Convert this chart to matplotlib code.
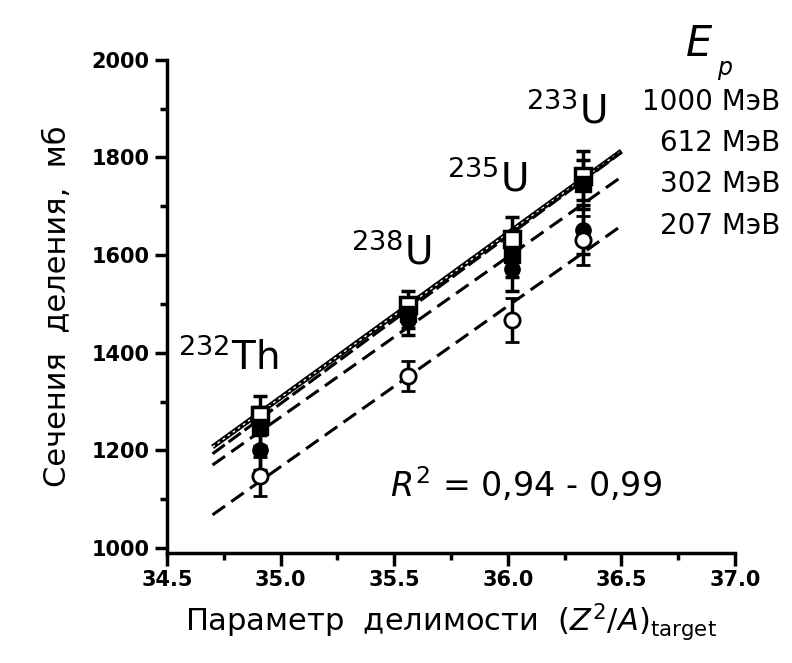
import matplotlib
matplotlib.use("Agg")
import matplotlib.pyplot as plt
from matplotlib.ticker import MultipleLocator, FormatStrFormatter

plt.rcParams['font.family'] = ['DejaVu Sans']

# параметр делимости ядер-мишеней
nuclei = ["232Th", "238U", "235U", "233U"]
z2a = [34.91, 35.56, 36.02, 36.33]

energies = ["1000 МэВ", "612 МэВ", "302 МэВ", "207 МэВ"]

# сечения деления, мб (по порядку ядер)
sig_1000 = [1272, 1497, 1632, 1762]
sig_612 = [1248, 1480, 1600, 1745]
sig_302 = [1200, 1466, 1572, 1652]
sig_207 = [1147, 1352, 1466, 1630]
err = [40, 30, 45, 50]

# концы линейных аппроксимаций
fit_x = [34.7, 36.5]
fit_1000 = [1207, 1813]
fit_612 = [1193, 1810]
fit_302 = [1170, 1760]
fit_207 = [1068, 1660]

# позиции подписей энергий справа
label_y = [1913, 1830, 1745, 1660]

fig = plt.figure(figsize=(7.92, 6.63), dpi=100)
ax = fig.add_axes([0.211, 0.166, 0.717, 0.744])

# линии аппроксимации
ax.plot(fit_x, fit_1000, color="black", lw=3.5, solid_capstyle="butt")
ax.plot(fit_x, fit_1000, color="white", lw=1.0, ls=(0, (2, 2.5)))
ax.plot(fit_x, fit_612, color="black", lw=2.2, ls=(0, (5, 1.5)))
ax.plot(fit_x, fit_302, color="black", lw=2.2, ls=(0, (5, 2.5)))
ax.plot(fit_x, fit_207, color="black", lw=2.2, ls=(0, (5, 2.5)))

# экспериментальные точки
eb = dict(ecolor="black", elinewidth=2.5, capsize=5, capthick=2.5, ls="none")
ax.errorbar(z2a, sig_1000, yerr=err, marker="s", ms=11, mfc="white",
            mec="black", mew=2.5, **eb)
ax.errorbar(z2a, sig_612, yerr=err, marker="s", ms=11, mfc="black",
            mec="black", **eb)
ax.errorbar(z2a, sig_302, yerr=err, marker="o", ms=11, mfc="black",
            mec="black", **eb)
ax.errorbar(z2a, sig_207, yerr=err, marker="o", ms=11, mfc="white",
            mec="black", mew=2, **eb)

# подписи ядер
ax.text(34.55, 1365, r"$^{232}$Th", fontsize=28, ha="left", va="baseline")
ax.text(35.31, 1580, r"$^{238}$U", fontsize=28, ha="left", va="baseline")
ax.text(35.73, 1730, r"$^{235}$U", fontsize=28, ha="left", va="baseline")
ax.text(36.08, 1870, r"$^{233}$U", fontsize=28, ha="left", va="baseline")

# подписи энергий
ax.text(36.78, 2075, r"$E$", fontsize=30, ha="left", va="top", clip_on=False)
ax.text(36.92, 2008, "p", fontsize=17, style="italic", ha="left", va="top",
        clip_on=False)
for lab, yy in zip(energies, label_y):
    ax.text(37.2, yy, lab, fontsize=20, ha="right", va="center", clip_on=False)

ax.text(35.48, 1130, r"$R^2$ = 0,94 - 0,99", fontsize=24, ha="left", va="center")

ax.set_xlim(34.5, 37.0)
ax.set_ylim(990, 2000)
ax.xaxis.set_major_locator(MultipleLocator(0.5))
ax.xaxis.set_minor_locator(MultipleLocator(0.25))
ax.yaxis.set_major_locator(MultipleLocator(200))
ax.yaxis.set_minor_locator(MultipleLocator(100))
ax.xaxis.set_major_formatter(FormatStrFormatter("%.1f"))

for side in ["top", "right"]:
    ax.spines[side].set_visible(False)
for side in ["left", "bottom"]:
    ax.spines[side].set_linewidth(2.5)
ax.tick_params(which="major", length=9, width=2.5, labelsize=15, direction="out")
ax.tick_params(which="minor", length=5, width=2.5, direction="out")
for t in ax.get_xticklabels() + ax.get_yticklabels():
    t.set_fontweight("bold")

ax.set_xlabel(r"Параметр  делимости  ($Z^{2}$/$A$)$_{\mathrm{target}}$", fontsize=22, labelpad=8)
ax.set_ylabel("Сечения  деления,  мб", fontsize=22, labelpad=14)

fig.savefig("out.png", dpi=100)
